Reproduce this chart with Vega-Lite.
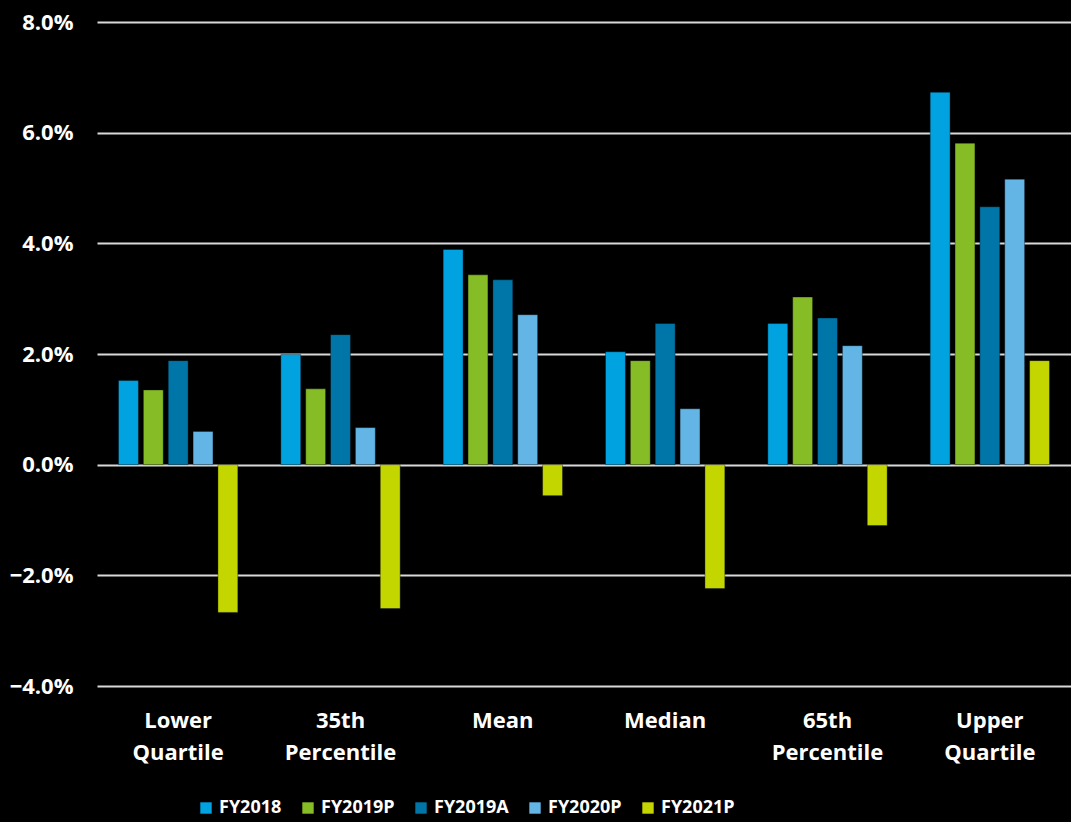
{
  "$schema": "https://vega.github.io/schema/vega-lite/v6.json",
  "width": 974,
  "height": 664,
  "autosize": {"type": "none"},
  "padding": {"left": 97, "top": 22, "right": 0, "bottom": 136},
  "background": "#000000",
  "config": {
    "view": {"stroke": null},
    "font": "Open Sans"
  },
  "data": {
    "values": [
      {"stat": "Lower Quartile", "series": "FY2018", "value": 0.0152},
      {"stat": "Lower Quartile", "series": "FY2019P", "value": 0.0135},
      {"stat": "Lower Quartile", "series": "FY2019A", "value": 0.0188},
      {"stat": "Lower Quartile", "series": "FY2020P", "value": 0.0060},
      {"stat": "Lower Quartile", "series": "FY2021P", "value": -0.0267},
      {"stat": "35th Percentile", "series": "FY2018", "value": 0.0199},
      {"stat": "35th Percentile", "series": "FY2019P", "value": 0.0137},
      {"stat": "35th Percentile", "series": "FY2019A", "value": 0.0235},
      {"stat": "35th Percentile", "series": "FY2020P", "value": 0.0067},
      {"stat": "35th Percentile", "series": "FY2021P", "value": -0.0260},
      {"stat": "Mean", "series": "FY2018", "value": 0.0389},
      {"stat": "Mean", "series": "FY2019P", "value": 0.0343},
      {"stat": "Mean", "series": "FY2019A", "value": 0.0334},
      {"stat": "Mean", "series": "FY2020P", "value": 0.0271},
      {"stat": "Mean", "series": "FY2021P", "value": -0.0056},
      {"stat": "Median", "series": "FY2018", "value": 0.0204},
      {"stat": "Median", "series": "FY2019P", "value": 0.0188},
      {"stat": "Median", "series": "FY2019A", "value": 0.0255},
      {"stat": "Median", "series": "FY2020P", "value": 0.0101},
      {"stat": "Median", "series": "FY2021P", "value": -0.0224},
      {"stat": "65th Percentile", "series": "FY2018", "value": 0.0255},
      {"stat": "65th Percentile", "series": "FY2019P", "value": 0.0303},
      {"stat": "65th Percentile", "series": "FY2019A", "value": 0.0265},
      {"stat": "65th Percentile", "series": "FY2020P", "value": 0.0215},
      {"stat": "65th Percentile", "series": "FY2021P", "value": -0.0110},
      {"stat": "Upper Quartile", "series": "FY2018", "value": 0.0673},
      {"stat": "Upper Quartile", "series": "FY2019P", "value": 0.0581},
      {"stat": "Upper Quartile", "series": "FY2019A", "value": 0.0466},
      {"stat": "Upper Quartile", "series": "FY2020P", "value": 0.0516},
      {"stat": "Upper Quartile", "series": "FY2021P", "value": 0.0188}
    ]
  },
  "mark": {"type": "bar", "stroke": "#000000", "strokeOpacity": 0.35, "strokeWidth": 1},
  "encoding": {
    "x": {
      "field": "stat",
      "type": "nominal",
      "sort": ["Lower Quartile", "35th Percentile", "Mean", "Median", "65th Percentile", "Upper Quartile"],
      "scale": {"paddingInner": 0.265, "paddingOuter": 0.1325},
      "axis": {
        "title": null,
        "domain": false,
        "ticks": false,
        "labelAngle": 0,
        "labelColor": "#ffffff",
        "labelFont": "Open Sans",
        "labelFontWeight": "bold",
        "labelFontSize": 22,
        "labelPadding": 24,
        "labelLineHeight": 32,
        "labelBaseline": "top",
        "labelExpr": "split(datum.label, ' ')"
      }
    },
    "xOffset": {
      "field": "series",
      "type": "nominal",
      "sort": ["FY2018", "FY2019P", "FY2019A", "FY2020P", "FY2021P"],
      "scale": {"paddingInner": 0.2, "paddingOuter": 0}
    },
    "y": {
      "field": "value",
      "type": "quantitative",
      "scale": {"domain": [-0.04, 0.08], "nice": false},
      "axis": {
        "title": null,
        "format": ".1%",
        "values": [-0.04, -0.02, 0, 0.02, 0.04, 0.06, 0.08],
        "domain": false,
        "ticks": false,
        "grid": true,
        "gridColor": "#d9d9d9",
        "gridWidth": 2,
        "labelColor": "#ffffff",
        "labelFont": "Open Sans",
        "labelFontWeight": "bold",
        "labelFontSize": 22,
        "labelPadding": 24
      }
    },
    "color": {
      "field": "series",
      "type": "nominal",
      "sort": ["FY2018", "FY2019P", "FY2019A", "FY2020P", "FY2021P"],
      "scale": {
        "domain": ["FY2018", "FY2019P", "FY2019A", "FY2020P", "FY2021P"],
        "range": ["#00A3E0", "#86BC25", "#0076A8", "#62B5E5", "#C4D600"]
      },
      "legend": {
        "title": null,
        "orient": "none",
        "direction": "horizontal",
        "legendX": 100,
        "legendY": 777,
        "symbolType": "square",
        "symbolSize": 130,
        "symbolStrokeWidth": 0,
        "symbolOpacity": 1,
        "labelColor": "#ffffff",
        "labelFont": "Open Sans",
        "labelFontWeight": "bold",
        "labelFontSize": 18,
        "labelOffset": 4,
        "columnPadding": 17
      }
    }
  }
}
